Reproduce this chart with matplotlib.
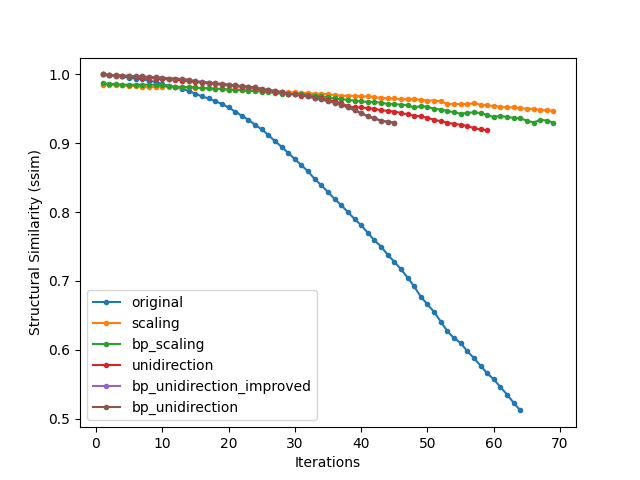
import numpy as np
import matplotlib
matplotlib.use("Agg")
import matplotlib.pyplot as plt

# ssim per iteration
original = [1.000, 0.999, 0.998, 0.997, 0.995, 0.994, 0.993, 0.991, 0.989, 0.986,
            0.983, 0.981, 0.979, 0.976, 0.972, 0.968, 0.965, 0.961, 0.957, 0.952,
            0.946, 0.940, 0.934, 0.927, 0.920, 0.912, 0.903, 0.895, 0.886, 0.877,
            0.868, 0.859, 0.848, 0.839, 0.829, 0.819, 0.810, 0.800, 0.790, 0.781,
            0.770, 0.759, 0.750, 0.738, 0.728, 0.717, 0.705, 0.692, 0.677, 0.666,
            0.655, 0.641, 0.627, 0.617, 0.610, 0.598, 0.588, 0.577, 0.566, 0.557,
            0.546, 0.535, 0.523, 0.512]

scaling = [0.985, 0.985, 0.984, 0.984, 0.983, 0.983, 0.982, 0.981, 0.982, 0.982,
           0.982, 0.981, 0.981, 0.982, 0.980, 0.980, 0.980, 0.979, 0.979, 0.978,
           0.978, 0.978, 0.977, 0.977, 0.976, 0.976, 0.976, 0.975, 0.974, 0.974,
           0.973, 0.973, 0.972, 0.972, 0.971, 0.970, 0.969, 0.969, 0.969, 0.968,
           0.968, 0.967, 0.966, 0.965, 0.965, 0.964, 0.964, 0.964, 0.963, 0.962,
           0.962, 0.961, 0.957, 0.957, 0.957, 0.957, 0.958, 0.956, 0.955, 0.954,
           0.953, 0.952, 0.952, 0.951, 0.950, 0.950, 0.948, 0.948, 0.947]

bp_scaling = [0.987, 0.986, 0.986, 0.985, 0.985, 0.985, 0.985, 0.985, 0.985, 0.984,
              0.983, 0.982, 0.982, 0.981, 0.981, 0.980, 0.980, 0.979, 0.979, 0.978,
              0.977, 0.977, 0.976, 0.976, 0.975, 0.974, 0.973, 0.972, 0.972, 0.971,
              0.971, 0.970, 0.969, 0.968, 0.967, 0.965, 0.964, 0.963, 0.962, 0.961,
              0.960, 0.960, 0.959, 0.957, 0.957, 0.956, 0.955, 0.952, 0.954, 0.953,
              0.950, 0.949, 0.947, 0.945, 0.943, 0.944, 0.945, 0.944, 0.941, 0.938,
              0.940, 0.938, 0.937, 0.936, 0.933, 0.930, 0.934, 0.933, 0.930]

unidirection = [1.000, 0.999, 0.998, 0.997, 0.997, 0.996, 0.995, 0.995, 0.994, 0.993,
                0.993, 0.992, 0.991, 0.990, 0.989, 0.988, 0.987, 0.986, 0.985, 0.984,
                0.983, 0.982, 0.981, 0.980, 0.978, 0.977, 0.975, 0.974, 0.972, 0.971,
                0.969, 0.968, 0.966, 0.965, 0.963, 0.961, 0.958, 0.954, 0.952, 0.952,
                0.951, 0.950, 0.948, 0.947, 0.946, 0.944, 0.942, 0.940, 0.939, 0.937,
                0.934, 0.932, 0.930, 0.928, 0.927, 0.925, 0.922, 0.920, 0.919]

bp_unidirection = [1.000, 0.999, 0.999, 0.998, 0.998, 0.997, 0.997, 0.996, 0.996, 0.995,
                   0.994, 0.994, 0.993, 0.992, 0.990, 0.989, 0.988, 0.987, 0.986, 0.985,
                   0.984, 0.983, 0.982, 0.981, 0.979, 0.977, 0.976, 0.974, 0.972, 0.971,
                   0.970, 0.968, 0.966, 0.964, 0.961, 0.959, 0.956, 0.952, 0.948, 0.944,
                   0.939, 0.936, 0.933, 0.931, 0.930]

# hidden under bp_unidirection in the reference
bp_unidirection_improved = list(bp_unidirection)

series = [
    ("original", original),
    ("scaling", scaling),
    ("bp_scaling", bp_scaling),
    ("unidirection", unidirection),
    ("bp_unidirection_improved", bp_unidirection_improved),
    ("bp_unidirection", bp_unidirection),
]

fig, ax = plt.subplots(figsize=(6.4, 4.8), dpi=100)
for name, values in series:
    iters = np.arange(1, len(values) + 1)
    ax.plot(iters, values, marker=".", label=name)

ax.set_xlabel("Iterations")
ax.set_ylabel("Structural Similarity (ssim)")
ax.legend(loc="lower left")

plt.savefig("out.png", dpi=100)
